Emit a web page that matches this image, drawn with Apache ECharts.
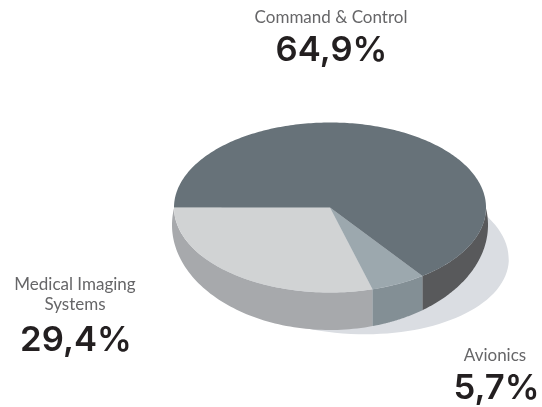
<!DOCTYPE html>
<html><head><meta charset="utf-8">
<style>html,body{margin:0;padding:0;background:#fff}#c{width:542px;height:407px}</style>
<script src="https://cdn.jsdelivr.net/npm/echarts@6/dist/echarts.min.js"></script>
</head><body><div id="c"></div>
<script>
const categories = ['Medical Imaging\nSystems', 'Avionics', 'Command & Control'];
const shares = [29.4, 5.7, 64.9];
const topColors = ['#d1d3d4', '#9ca8ae', '#677279'];
const sideColors = ['#a7a9ac', '#838f95', '#58595b'];
const labelAnchors = [[75, 275, 341, 76], [495, 356, 389, 496.5], [331, 18, 51, 331.5]];

const chart = echarts.init(document.getElementById('c'), null, {renderer: 'canvas'});
const total = shares.reduce((a, b) => a + b, 0);
const cx = 330, cy = 207.5, rx = 156, ry = 85;
const bx = 158, bcy = 225, by = 105;
const wallOver = Math.asin((bcy - cy) / by);
const rad = d => d * Math.PI / 180;

function sliceAngles(i) {
  let before = 0;
  for (let k = 0; k < i; k++) before += shares[k];
  const a0 = Math.PI - before / total * 2 * Math.PI;
  const a1 = a0 - shares[i] / total * 2 * Math.PI;
  return [a0, a1];
}
function topPoint(a) { return [cx + rx * Math.cos(a), cy + ry * Math.sin(a)]; }
function bottomPoint(b) { return [cx + bx * Math.cos(b), bcy + by * Math.sin(b)]; }

function renderItem(params, api) {
  const i = api.value(0);
  const [a0, a1] = sliceAngles(i);
  const children = [];
  const f0 = Math.min(a0, Math.PI), f1 = Math.max(a1, 0);
  if (f0 > f1) {
    const pts = [];
    const n = 80;
    for (let k = 0; k <= n; k++) pts.push(topPoint(f0 + (f1 - f0) * k / n));
    const toB = a => {
      if (a <= 0) return -wallOver;
      if (a >= Math.PI) return Math.PI + wallOver;
      return Math.acos(rx * Math.cos(a) / bx);
    };
    const b0 = toB(f0), b1 = toB(f1);
    for (let k = 0; k <= n; k++) pts.push(bottomPoint(b1 + (b0 - b1) * k / n));
    children.push({type: 'polygon', z2: 1, shape: {points: pts}, style: {fill: sideColors[i]}});
  }
  const topPts = [[cx, cy]];
  const m = Math.max(8, Math.ceil(Math.abs(a1 - a0) * 60));
  for (let k = 0; k <= m; k++) topPts.push(topPoint(a0 + (a1 - a0) * k / m));
  children.push({type: 'polygon', z2: 2, shape: {points: topPts}, style: {fill: topColors[i]}});
  return {type: 'group', children};
}

const labelEls = [];
categories.forEach((name, i) => {
  const [x, y, yv, xv] = labelAnchors[i];
  labelEls.push({type: 'text', z: 5, x, y, style: {text: name, align: 'center', verticalAlign: name.includes('\n') ? 'top' : 'middle',
    fontFamily: 'Lato', fontWeight: 400, fontSize: 17, lineHeight: 20, fill: '#666668'}});
  labelEls.push({type: 'text', z: 5, x: xv, y: yv, scaleX: 1.02, style: {text: shares[i].toFixed(1).replace('.', ',') + '%', align: 'center', verticalAlign: 'middle',
    fontFamily: 'Inter', fontWeight: 600, fontSize: 34, fill: '#231f20'}});
});

chart.setOption({
  animation: false,
  backgroundColor: '#ffffff',
  graphic: [
    {type: 'ellipse', z: 0, x: 355, y: 253, rotation: -rad(3), shape: {cx: 0, cy: 0, rx: 154, ry: 81}, style: {fill: '#dadde2'}},
    ...labelEls
  ],
  series: [{
    type: 'custom',
    coordinateSystem: 'none',
    z: 2,
    silent: true,
    data: shares.map((v, i) => [i, v]),
    renderItem
  }]
});
</script></body></html>
